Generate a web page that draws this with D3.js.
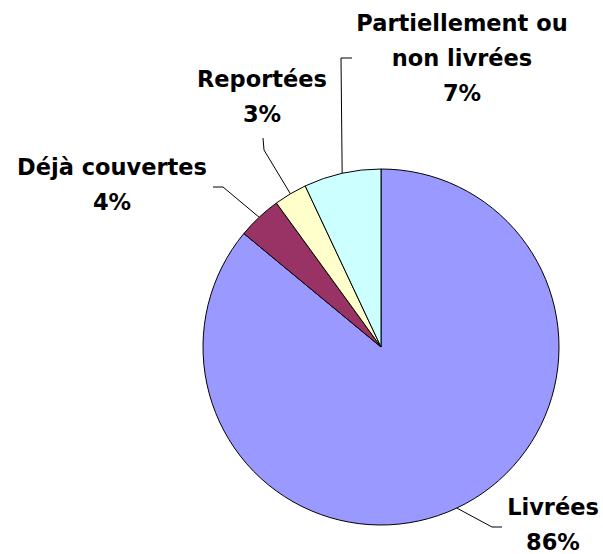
<!DOCTYPE html>
<html>
<head>
<meta charset="utf-8">
<script src="https://cdn.jsdelivr.net/npm/d3@7"></script>
<style>
  html, body { margin: 0; padding: 0; background: #fff; }
  svg { display: block; }
  .lbl { font-family: "DejaVu Sans", Verdana, sans-serif; font-weight: bold; font-size: 22.5px; fill: #000; }
</style>
</head>
<body>
<svg id="chart" width="603" height="554"></svg>
<script>
// data
const categories = ["Livrées", "Déjà couvertes", "Reportées", "Partiellement ou non livrées"];
const labelLines = [["Livrées"], ["Déjà couvertes"], ["Reportées"], ["Partiellement ou", "non livrées"]];
const values = [86, 4, 3, 7];
const colors = ["#9999ff", "#993366", "#ffffcc", "#ccffff"];

// layout
const width = 603, height = 554;
const cx = 381, cy = 347, radius = 178;
const lineH = 35;
// first baseline of each label
const labelPos = [
  {x: 553, y: 515},
  {x: 112, y: 175},
  {x: 262, y: 87},
  {x: 462, y: 31}
];
// leader line bends, from the pie outward
const leaderPts = [
  [[492, 527], [502, 527]],
  [[223, 187], [213, 187]],
  [[264, 150], [263, 138]],
  [[341, 58], [352, 58]]
];

const total = d3.sum(values);
const pct = d3.format(".0%");

const svg = d3.select("#chart");

const pie = d3.pie().sort(null).value(d => d);
const arcs = pie(values);

const arc = d3.arc().innerRadius(0).outerRadius(radius);

const g = svg.append("g").attr("transform", `translate(${cx},${cy})`);

//leader lines
const line = d3.line();
svg.append("g")
  .selectAll("path")
  .data(arcs)
  .join("path")
  .attr("fill", "none")
  .attr("stroke", "#000")
  .attr("stroke-width", 1)
  .attr("d", (d, i) => {
    const a = (d.startAngle + d.endAngle) / 2;
    const p0 = [cx + radius * Math.sin(a), cy - radius * Math.cos(a)];
    return line([p0].concat(leaderPts[i]));
  });

//slices
g.selectAll("path")
  .data(arcs)
  .join("path")
  .attr("d", arc)
  .attr("fill", (d, i) => colors[i])
  .attr("stroke", "#000")
  .attr("stroke-width", 1)
  .attr("stroke-linejoin", "round");

//labels
const labels = svg.append("g")
  .selectAll("text")
  .data(arcs)
  .join("text")
  .attr("class", "lbl")
  .attr("text-anchor", "middle")
  .attr("x", (d, i) => labelPos[i].x)
  .attr("y", (d, i) => labelPos[i].y);

labels.each(function (d, i) {
  const t = d3.select(this);
  const lines = labelLines[i].concat([pct(d.data / total)]);
  lines.forEach((s, k) => {
    t.append("tspan")
      .attr("x", labelPos[i].x)
      .attr("y", labelPos[i].y + k * lineH)
      .text(s);
  });
});
</script>
</body>
</html>
